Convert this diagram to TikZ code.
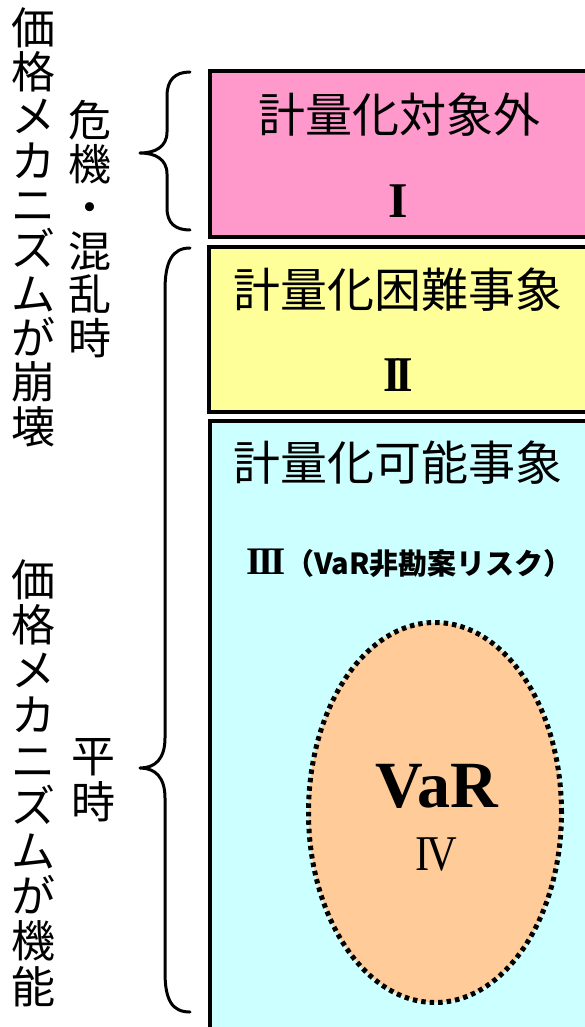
\documentclass[tikz,border=0pt]{standalone}
\usepackage{fontspec}
\usepackage{graphicx}
\usetikzlibrary{shapes.geometric}
\newfontfamily\jp{Noto Sans CJK JP}
\newfontfamily\rmn{Liberation Serif}
\definecolor{pinkbox}{HTML}{FF99CC}
\definecolor{yellowbox}{HTML}{FFFF99}
\definecolor{cyanbox}{HTML}{CCFFFF}
\definecolor{peach}{HTML}{FFCC99}
\begin{document}
\begin{tikzpicture}[x=1pt,y=-1pt,
  band/.style={draw=black,line width=4pt},
  title/.style={font=\jp\fontsize{47}{47}\selectfont, inner sep=0pt},
  numeral/.style={font=\rmn\fontsize{50}{50}\selectfont, inner sep=0pt},
  vtext/.style={align=center, inner sep=0pt},
  brace/.style={line width=3pt, line cap=round, line join=round}]
\useasboundingbox (0,0) rectangle (585,1027);
\begin{scope}
\clip (0,0) rectangle (585,1027);
\fill[white] (0,0) rectangle (585,1027);
\draw[band, fill=pinkbox] (210,71) rectangle (640,237);
\draw[band, fill=yellowbox] (209,247) rectangle (640,412);
\draw[band, fill=cyanbox] (210,421) rectangle (640,1060);
\end{scope}
\node[ellipse, draw=black, fill=peach, line width=5pt, dash pattern=on 4.5pt off 4pt,
  minimum width=253pt, minimum height=380pt, inner sep=0pt] (ell) at (435,812.5) {};
% box texts
\node[title] (t1) at (399,115) {計量化対象外};
\node[numeral, font=\rmn\bfseries\fontsize{50}{50}\selectfont] (n1) at (398,201) {I};
\node[title] (t2) at (398,290) {計量化困難事象};
\node[numeral, font=\rmn\bfseries\fontsize{50}{50}\selectfont] (n2) at (398,375) {\scalebox{0.9}[1]{I\kern-6pt I}};
\node[title] (t3) at (398,463) {計量化可能事象};
\node[inner sep=0pt, anchor=west] (n3) at (246,563) {{\rmn\bfseries\fontsize{39}{39}\selectfont I\kern-3.2pt I\kern-3.2pt I}{\jp\bfseries\fontsize{29}{29}\selectfont （VaR非勘案リスク）}};
\node[font=\rmn\bfseries\fontsize{66}{66}\selectfont, inner sep=0pt] (var) at (437,786) {VaR};
\node[numeral] (n4) at (436,854) {\scalebox{0.85}[1]{I\kern-4pt V}};
% vertical labels
\node[vtext, font=\jp\fontsize{44}{44.3}\selectfont] (c1) at (33,227) {価\\格\\メ\\カ\\ニ\\ズ\\ム\\が\\崩\\壊};
\node[vtext, font=\jp\fontsize{43}{43.6}\selectfont] (c2) at (90,229) {危\\機\\・\\混\\乱\\時};
\node[vtext, font=\jp\fontsize{44}{45.2}\selectfont] (c3) at (33,783) {価\\格\\メ\\カ\\ニ\\ズ\\ム\\が\\機\\能};
\node[vtext, font=\jp\fontsize{44}{46}\selectfont] (c4) at (93,780) {平\\時};
% braces
\draw[brace] (190,72) .. controls (175,72) and (167,80) .. (167,96) -- (167,132)
  .. controls (167,147) and (155,153) .. (140,153)
  .. controls (155,153) and (167,159) .. (167,174) -- (167,208)
  .. controls (167,223) and (175,230) .. (190,230);
\draw[brace] (190,248) .. controls (172,248) and (165,262) .. (165,290) -- (165,738)
  .. controls (165,759) and (155,768) .. (140,768)
  .. controls (155,768) and (165,777) .. (165,798) -- (165,972)
  .. controls (165,1000) and (172,1012) .. (190,1012);
\end{tikzpicture}
\end{document}
